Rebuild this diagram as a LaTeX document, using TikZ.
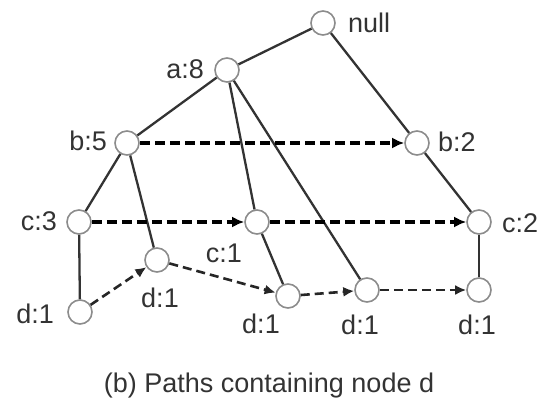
\documentclass[tikz,border=0pt]{standalone}
\usepackage{fontspec}
\setmainfont{Liberation Sans}
\usetikzlibrary{arrows.meta}
\begin{document}
\begin{tikzpicture}[x=1pt,y=-1pt,
  tn/.style={circle, draw=black!45, line width=1.6pt, fill=white, minimum size=24pt, inner sep=0pt},
  lbl/.style={font=\fontsize{27}{30}\selectfont, inner sep=0pt, text=black!80},
  edge/.style={draw=black!80, line width=2.3pt},
  link/.style={draw=black, line width=3.3pt, dash pattern=on 10pt off 5pt, -{Latex[length=12pt,width=11pt]}},
  linkb/.style={draw=black!85, line width=2.6pt, dash pattern=on 9pt off 5pt, -{Latex[length=11pt,width=10pt]}}]
\useasboundingbox (0,0) rectangle (554,404);
% tree nodes
\node[tn] (null) at (323,23) {};
\node[tn] (a8) at (227,70) {};
\node[tn] (b5) at (127,143) {};
\node[tn] (b2) at (417,143) {};
\node[tn] (c3) at (79,222) {};
\node[tn] (c1) at (257,222) {};
\node[tn] (c2) at (479,222) {};
\node[tn] (d1) at (80,312) {};
\node[tn] (d2) at (157,260) {};
\node[tn] (d3) at (288,296) {};
\node[tn] (d4) at (367,290) {};
\node[tn] (d5) at (479,290) {};
% labels
\node[lbl, anchor=base west] (lnull) at (348,33) {null};
\node[lbl, anchor=base east] (la8) at (204,78) {a:8};
\node[lbl, anchor=base east] (lb5) at (107,150) {b:5};
\node[lbl, anchor=base west] (lb2) at (438,151) {b:2};
\node[lbl, anchor=base east] (lc3) at (57,230) {c:3};
\node[lbl, anchor=base] (lc1) at (224,262) {c:1};
\node[lbl, anchor=base west] (lc2) at (502,232) {c:2};
\node[lbl, anchor=base east] (ld1) at (54,323) {d:1};
\node[lbl, anchor=base] (ld2) at (160,307) {d:1};
\node[lbl, anchor=base] (ld3) at (261,333) {d:1};
\node[lbl, anchor=base] (ld4) at (360,334) {d:1};
\node[lbl, anchor=base] (ld5) at (477,334) {d:1};
\node[lbl, anchor=base] (cap) at (269,392) {(b) Paths containing node d};
% tree edges
\draw[edge] (null) -- (a8);
\draw[edge] (null) -- (b2);
\draw[edge] (a8) -- (b5);
\draw[edge] (a8) -- (c1);
\draw[edge] (a8) -- (d4);
\draw[edge] (b5) -- (c3);
\draw[edge] (b5) -- (d2);
\draw[edge] (c3) -- (d1);
\draw[edge] (c1) -- (d3);
\draw[edge] (b2) -- (c2);
\draw[edge] (c2) -- (d5);
% node links
\draw[link] (b5) -- (b2);
\draw[link] (c3) -- (c1);
\draw[link] (c1) -- (c2);
\draw[linkb] (d1) -- (d2);
\draw[linkb] (d2) -- (d3);
\draw[linkb] (d3) -- (d4);
\draw[linkb] (d4) -- (d5);
\end{tikzpicture}
\end{document}
